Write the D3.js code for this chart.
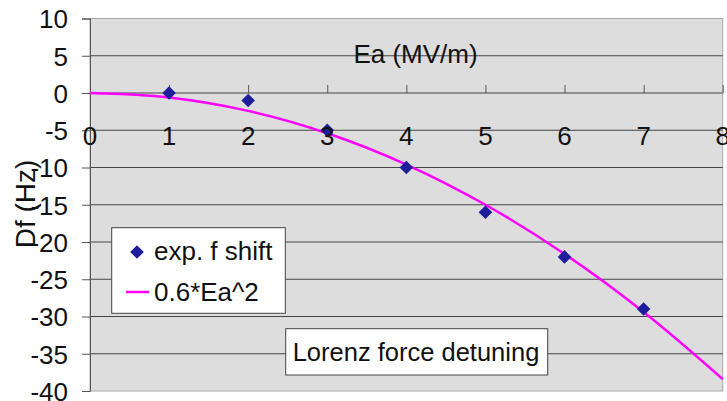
<!DOCTYPE html>
<html><head><meta charset="utf-8">
<script src="https://cdn.jsdelivr.net/npm/d3@7"></script>
<style>
html,body{margin:0;padding:0;background:#fff;}
svg{display:block;font-family:"Liberation Sans",Arial,sans-serif;}
</style></head>
<body>
<svg id="chart" width="727" height="401"></svg>
<script>
// Data
const expEa = [1, 2, 3, 4, 5, 6, 7];
const expShift = [0, -1, -5, -10, -16, -22, -29];
const fitEa = [0, 1, 2, 3, 4, 5, 6, 7, 8];
const fitShift = [0, -0.6, -2.4, -5.4, -9.6, -15, -21.6, -29.4, -38.4];
const xTicks = [0, 1, 2, 3, 4, 5, 6, 7, 8];
const yTicks = [10, 5, 0, -5, -10, -15, -20, -25, -30, -35, -40];
const legendLabels = ["exp. f shift", "0.6*Ea^2"];
const xTitle = "Ea (MV/m)";
const yTitle = "Df (Hz)";
const noteText = "Lorenz force detuning";

const svg = d3.select("#chart");
const L = 90, R = 722.7, T = 18.5, B = 391;
const x = d3.scaleLinear().domain([0, 8]).range([L, R]);
const y = d3.scaleLinear().domain([-40, 10]).range([B, T]);
const FS = 26;

// plot area
svg.append("rect").attr("x", L).attr("y", T).attr("width", R - L).attr("height", B - T)
  .attr("fill", "#dddddd").attr("stroke", "#a8a8a8").attr("stroke-width", 1);

// gridlines
svg.append("g").selectAll("line").data(yTicks.filter(d => d !== 10 && d !== -40)).join("line")
  .attr("x1", L).attr("x2", R).attr("y1", d => y(d)).attr("y2", d => y(d))
  .attr("stroke", "#444").attr("stroke-width", 1);

// y axis
const yAxis = svg.append("g").attr("transform", `translate(${L},0)`)
  .call(d3.axisLeft(y).tickValues(yTicks).tickSize(8).tickPadding(14).tickFormat(d => String(d)));
yAxis.select(".domain").attr("stroke", "#555");
yAxis.selectAll(".tick line").attr("stroke", "#555");
yAxis.selectAll("text").attr("font-size", FS).attr("fill", "#111")
  .attr("font-family", '"Liberation Sans",Arial,sans-serif').attr("dy", "0.36em");

// x axis at y=0 with ticks pointing up
const xAxis = svg.append("g").attr("transform", `translate(0,${y(0)})`)
  .call(d3.axisTop(x).tickValues(xTicks).tickSize(8).tickFormat(""));
xAxis.select(".domain").remove();
xAxis.selectAll(".tick line").attr("stroke", "#555");

// fit curve
const line = d3.line().x((d, i) => x(fitEa[i])).y(d => y(d)).curve(d3.curveCatmullRom);
svg.append("path").datum(fitShift).attr("d", line)
  .attr("fill", "none").attr("stroke", "#ff00ff").attr("stroke-width", 2.5);

// points
const diamond = d3.symbol().type(d3.symbolDiamond2).size(118);
svg.append("g").selectAll("path").data(expShift).join("path")
  .attr("d", diamond)
  .attr("transform", (d, i) => `translate(${x(expEa[i])},${y(d)})`)
  .attr("fill", "#1e1e9c");

// x tick labels
svg.append("g").selectAll("text").data(xTicks).join("text")
  .attr("x", d => x(d)).attr("y", 144.5).attr("text-anchor", "middle")
  .attr("font-size", FS).attr("fill", "#111").text(d => d);

// x title
svg.append("text").attr("x", 415.5).attr("y", 63).attr("text-anchor", "middle")
  .attr("font-size", FS).attr("fill", "#111").text(xTitle);

// y title
svg.append("text").attr("transform", "translate(35,204) rotate(-90)")
  .attr("text-anchor", "middle").attr("font-size", 28).attr("fill", "#111").text(yTitle);

// legend
const lg = svg.append("g");
lg.append("rect").attr("x", 111.7).attr("y", 227.7).attr("width", 173.6).attr("height", 85.6)
  .attr("fill", "#fff").attr("stroke", "#444").attr("stroke-width", 1);
lg.append("path").attr("d", diamond).attr("transform", "translate(137,252)").attr("fill", "#1e1e9c");
lg.append("line").attr("x1", 126).attr("x2", 149).attr("y1", 292).attr("y2", 292)
  .attr("stroke", "#ff00ff").attr("stroke-width", 2.5);
lg.selectAll("text.lab").data(legendLabels).join("text").attr("class", "lab")
  .attr("x", 154).attr("y", (d, i) => i === 0 ? 260 : 301)
  .attr("font-size", FS).attr("fill", "#111").text(d => d);

// annotation
svg.append("rect").attr("x", 285.7).attr("y", 328.7).attr("width", 262).attr("height", 46.3)
  .attr("fill", "#fff").attr("stroke", "#444").attr("stroke-width", 1);
svg.append("text").attr("x", 416).attr("y", 361).attr("text-anchor", "middle")
  .attr("font-size", 25.5).attr("fill", "#111").text(noteText);
</script>
</body></html>
